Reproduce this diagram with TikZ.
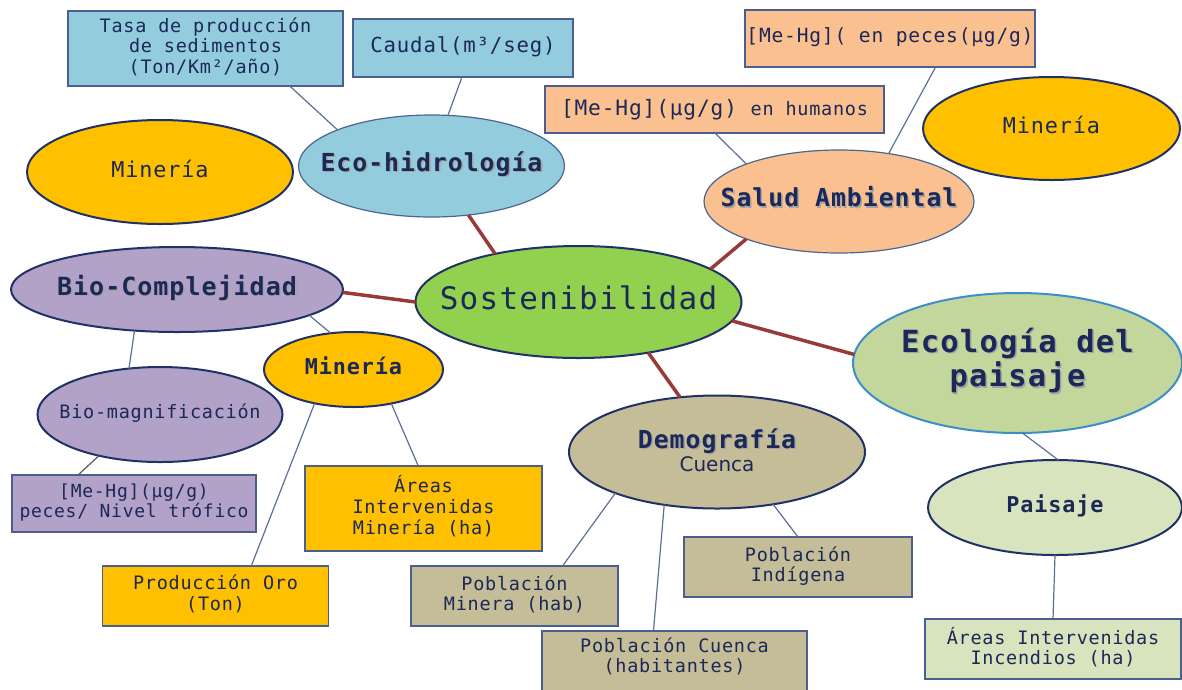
\documentclass[tikz,border=0pt]{standalone}
\usepackage{fontspec}
\setmainfont{DejaVu Sans Mono}[LetterSpace=4]
\newfontfamily\vsans{DejaVu Sans}
\usetikzlibrary{shapes.geometric}
\definecolor{txt}{HTML}{1B2858}
\definecolor{navy}{HTML}{1F3167}
\definecolor{thinb}{HTML}{4A6690}
\definecolor{boxl}{HTML}{4A5F8F}
\definecolor{linkc}{HTML}{5B6F9A}
\definecolor{redl}{HTML}{983A38}
\definecolor{blueF}{HTML}{93CDDD}
\definecolor{peachF}{HTML}{FAC090}
\definecolor{goldF}{HTML}{FFC000}
\definecolor{purpF}{HTML}{B3A2C7}
\definecolor{greenF}{HTML}{92D050}
\definecolor{ecolF}{HTML}{C3D69B}
\definecolor{ecolL}{HTML}{3A8FCB}
\definecolor{paisF}{HTML}{D7E4BD}
\definecolor{tanF}{HTML}{C4BD97}
\definecolor{shc}{HTML}{A3A3A3}
\newcommand\ct[1]{\makebox[0pt]{\begin{tabular}{@{}c@{}}#1\end{tabular}}}
\newcommand\sh[1]{\makebox[0pt]{\hspace{3pt}\raisebox{-1.5pt}{\color{shc}\ct{#1}}}\ct{#1}}
\newcommand\fs[2]{\fontsize{#1}{#2}\selectfont}
\tikzset{
  ell/.style={ellipse, draw=navy, line width=2pt, inner sep=0pt, outer sep=0pt, text=txt},
  ellthin/.style={ellipse, draw=thinb, line width=1.2pt, inner sep=0pt, outer sep=0pt, text=txt},
  box/.style={rectangle, draw=boxl, line width=1.4pt, inner sep=0pt, outer sep=0pt, text=txt},
  redlink/.style={draw=redl, line width=3.5pt},
  thinlink/.style={draw=linkc, line width=1.2pt},
  greylink/.style={draw=black!65, line width=1.2pt}
}
\begin{document}
\begin{tikzpicture}[x=1pt,y=-1pt]
\useasboundingbox (0,0) rectangle (1182,689);
% boxes
\node[box, fill=blueF, minimum width=275pt, minimum height=75pt] (tasa) at (205.5,48.5)
  {\fs{18.5}{19.5}\ct{Tasa de producción\\de sedimentos\\(Ton/Km²/año)}};
\node[box, fill=blueF, minimum width=220pt, minimum height=58pt] (caudal) at (463,48)
  {\fs{20.7}{22}\ct{Caudal(m³/seg)}};
\node[box, fill=peachF, minimum width=290pt, minimum height=57pt] (peces) at (890,38.5)
  {\fs{19.6}{21}\ct{[Me-Hg]( en peces(µg/g)}};
\node[box, fill=peachF, minimum width=339pt, minimum height=47pt] (humanos) at (714.5,109.5)
  {\ct{\fs{21.2}{22}[Me-Hg](µg/g) \fs{18.5}{22}en humanos}};
\node[box, fill=purpF, minimum width=244pt, minimum height=57pt] (mebox) at (134,503.5)
  {\fs{18}{20}\ct{[Me-Hg](µg/g)\\peces/ Nivel trófico}};
\node[box, fill=goldF, minimum width=237pt, minimum height=85pt] (areas) at (423.5,508.5)
  {\fs{18.5}{21}\ct{Áreas\\Intervenidas\\Minería (ha)}};
\node[box, fill=goldF, minimum width=226pt, minimum height=60pt] (oro) at (215.5,596)
  {\fs{18.5}{21}\ct{Producción Oro\\(Ton)}};
\node[box, fill=tanF, minimum width=207pt, minimum height=60pt] (pmin) at (514.5,596)
  {\fs{18.5}{20}\ct{Población\\Minera (hab)}};
\node[box, fill=tanF, minimum width=228pt, minimum height=60pt] (pind) at (798,567)
  {\fs{18.5}{20}\ct{Población\\Indígena}};
\node[box, fill=tanF, minimum width=265pt, minimum height=70pt] (pcue) at (674.5,666)
  {\raisebox{3.5pt}[0pt][0pt]{\fs{18.5}{20}\ct{Población Cuenca\\(habitantes)}}};
\node[box, fill=paisF, minimum width=256pt, minimum height=60pt] (ainc) at (1053,649)
  {\fs{18.5}{20}\ct{Áreas Intervenidas\\Incendios (ha)}};
% ellipses
\node[ellthin, fill=blueF, minimum width=266pt, minimum height=102pt] (eco) at (431.5,166)
  {\fs{24.8}{26}\bfseries\sh{Eco-hidrología}};
\node[ell, fill=goldF, minimum width=266pt, minimum height=104pt] (minL) at (160,172)
  {\fs{21.8}{24}\ct{Minería}};
\node[ell, fill=goldF, minimum width=257pt, minimum height=103pt] (minR) at (1051.5,128.5)
  {\fs{21.8}{24}\ct{Minería}};
\node[ellthin, fill=peachF, minimum width=270pt, minimum height=103pt] (salud) at (839,201.5)
  {\fs{24.8}{26}\bfseries\sh{Salud Ambiental}};
\node[ell, fill=purpF, minimum width=332pt, minimum height=85pt] (bioc) at (177,289.5)
  {\fs{25}{26}\bfseries\sh{Bio-Complejidad}};
\node[ell, fill=greenF, minimum width=326pt, minimum height=112pt] (sost) at (578.5,302)
  {\fs{31}{32}\ct{Sostenibilidad}};
\node[ell, fill=goldF, minimum width=179pt, minimum height=75pt] (minM) at (353.5,369.5)
  {\fs{21.8}{24}\bfseries\ct{Minería}};
\node[ell, fill=purpF, minimum width=245pt, minimum height=95pt] (biom) at (160,414.5)
  {\fs{18.5}{20}\ct{Bio-magnificación}};
\node[ell, draw=ecolL, fill=ecolF, minimum width=329pt, minimum height=140pt] (ecol) at (1017.5,363)
  {\fs{30.5}{33}\bfseries\sh{Ecología del\\paisaje}};
\node[ell, fill=tanF, minimum width=296pt, minimum height=113pt] (demo) at (717,452)
  {\ct{\fs{24.8}{24}\bfseries\sh{Demografía}\\\fs{20}{23}\mdseries\vsans Cuenca}};
\node[ell, fill=paisF, minimum width=254pt, minimum height=95pt] (pais) at (1055,507.5)
  {\fs{21.8}{24}\bfseries\ct{Paisaje}};
% red links
\draw[redlink] (eco.-53) -- (sost.150);
\draw[redlink] (salud.-158) -- (sost.14);
\draw[redlink] (bioc.-1) -- (sost.180);
\draw[redlink] (sost.-7) -- (ecol.177);
\draw[redlink] (sost.-36) -- (demo.124);
% thin links
\draw[thinlink] (tasa.-24) -- (eco.159);
\draw[thinlink] (caudal.-92) -- (eco.72);
\draw[thinlink] (humanos.-89) -- (salud.158);
\draw[thinlink] (peces.-32) -- (salud.44);
\draw[thinlink] (bioc.-11) -- (minM.122);
\draw[thinlink] (bioc.-136) -- (biom.124);
\draw[greylink] (biom.-146) -- (mebox.153.6);
\draw[thinlink] (minM.-139) -- (oro.40.8);
\draw[thinlink] (minM.-42) -- (areas.97.4);
\draw[thinlink] (demo.-158) -- (pmin.32.3);
\draw[thinlink] (demo.-135) -- (pcue.121);
\draw[thinlink] (demo.-43) -- (pind.90);
\draw[thinlink] (ecol.-86) -- (pais.86);
\draw[thinlink] (pais.-90) -- (ainc.90);
\end{tikzpicture}
\end{document}
